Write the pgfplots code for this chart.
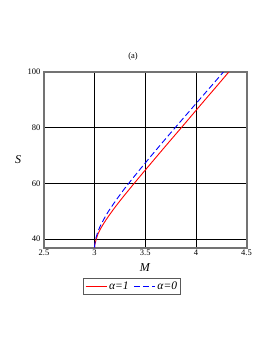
\documentclass[border=0pt]{standalone}
\usepackage{fontspec}
\setmainfont{Liberation Serif}
\usepackage{pgfplots}
\pgfplotsset{compat=1.18}
\begin{document}
\begin{tikzpicture}
\path[use as bounding box] (-44pt,-105.5pt) rectangle (229pt,247.5pt);
\begin{axis}[
  at={(0pt,0pt)}, anchor=south west,
  scale only axis, width=202.5pt, height=175.5pt,
  xmin=2.5, xmax=4.5, ymin=37, ymax=100,
  xtick={2.5,3,3.5,4,4.5}, ytick={40,60,80,100},
  grid=major, major grid style={black, line width=0.7pt},
  axis line style={line width=2pt, black!55},
  tick style={draw=none},
  /pgf/number format/assume math mode=true,
  ticklabel style={font=\fontsize{8.5}{10}\selectfont},
  xticklabel style={yshift=1pt},
  xlabel={\textit{M}}, ylabel={\textit{S}},
  every axis x label/.style={at={(axis description cs:0.5,-0.117)}, anchor=center, font=\fontsize{12}{14}\selectfont},
  every axis y label/.style={at={(axis description cs:-0.128,0.5)}, anchor=center, font=\fontsize{12}{14}\selectfont},
  title={(a)},
  title style={at={(axis description cs:0.44,1.057)}, anchor=center, font=\fontsize{8.5}{10}\selectfont},
  legend columns=2,
  legend style={at={(axis description cs:0.435,-0.174)}, anchor=north, draw=black!65, line width=0.9pt, font=\fontsize{11.5}{13}\selectfont, inner sep=1.5pt, /tikz/every even column/.append style={column sep=3pt}},
  legend image code/.code={\draw[#1] (0pt,0pt) -- (21pt,0pt);},
]
\addplot[red, line width=0.9pt, smooth, tension=0.4] coordinates {
(3.000,37)(3.002,38)(3.016,40)(3.035,42)(3.063,44)(3.096,46)(3.133,48)(3.172,50)(3.213,52)(3.256,54)(3.300,56)(3.345,58)(3.390,60)(3.505,65)(3.621,70)(3.738,75)(3.856,80)(3.973,85)(4.090,90)(4.208,95)(4.325,100)
};
\addlegendentry{\textit{α=1}}
\addplot[blue, line width=0.9pt, dash pattern=on 6pt off 3pt, smooth, tension=0.4] coordinates {
(3.000,37)(3.001,38)(3.010,40)(3.026,42)(3.047,44)(3.074,46)(3.104,48)(3.137,50)(3.174,52)(3.212,54)(3.252,56)(3.293,58)(3.336,60)(3.447,65)(3.561,70)(3.677,75)(3.795,80)(3.914,85)(4.033,90)(4.153,95)(4.272,100)
};
\addlegendentry{\textit{α=0}}
\end{axis}
\end{tikzpicture}
\end{document}
